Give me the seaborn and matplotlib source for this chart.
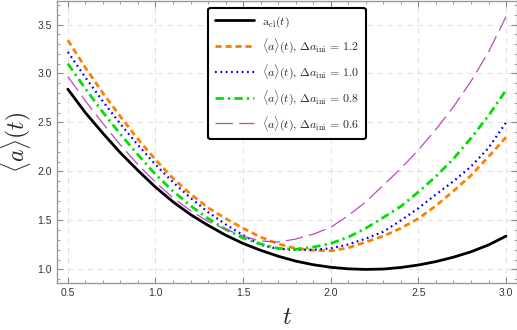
import numpy as np
import pandas as pd
import matplotlib
matplotlib.use("Agg")
import matplotlib.pyplot as plt
import seaborn as sns
from matplotlib.ticker import MultipleLocator

# values, t step 0.1
t = [0.5, 0.6, 0.7, 0.8, 0.9, 1.0, 1.1, 1.2, 1.3, 1.4, 1.5, 1.6, 1.7,
     1.8, 1.9, 2.0, 2.1, 2.2, 2.3, 2.4, 2.5, 2.6, 2.7, 2.8, 2.9, 3.0]

a_cl = [2.84, 2.60, 2.39, 2.19, 2.01, 1.84, 1.69, 1.56, 1.45, 1.35, 1.265,
        1.195, 1.135, 1.085, 1.048, 1.022, 1.006, 1.000, 1.004, 1.020,
        1.045, 1.080, 1.125, 1.180, 1.250, 1.340]
a_12 = [3.34, 3.06, 2.80, 2.56, 2.33, 2.12, 1.93, 1.77, 1.63, 1.52, 1.42,
        1.33, 1.26, 1.215, 1.195, 1.19, 1.22, 1.28, 1.34, 1.42, 1.52,
        1.65, 1.80, 1.96, 2.15, 2.35]
a_10 = [3.22, 2.96, 2.715, 2.485, 2.27, 2.07, 1.89, 1.73, 1.585, 1.46, 1.35,
        1.25, 1.21, 1.20, 1.20, 1.215, 1.255, 1.315, 1.385, 1.50, 1.625,
        1.765, 1.90, 2.05, 2.24, 2.50]
a_08 = [3.10, 2.845, 2.605, 2.38, 2.17, 1.97, 1.80, 1.65, 1.52, 1.41, 1.32,
        1.26, 1.215, 1.205, 1.228, 1.265, 1.33, 1.42, 1.53, 1.645, 1.79,
        1.95, 2.13, 2.34, 2.57, 2.83]
a_06 = [2.97, 2.72, 2.49, 2.27, 2.07, 1.89, 1.73, 1.60, 1.49, 1.41, 1.34,
        1.29, 1.28, 1.31, 1.36, 1.43, 1.55, 1.69, 1.86, 2.03, 2.22, 2.43,
        2.66, 2.92, 3.22, 3.58]

labels = [r"$\mathrm{a_{cl}}(t)$",
          r"$\langle a\rangle(t),\,\Delta a_{\mathrm{ini}}\,=\,1.2$",
          r"$\langle a\rangle(t),\,\Delta a_{\mathrm{ini}}\,=\,1.0$",
          r"$\langle a\rangle(t),\,\Delta a_{\mathrm{ini}}\,=\,0.8$",
          r"$\langle a\rangle(t),\,\Delta a_{\mathrm{ini}}\,=\,0.6$"]

sns.set_theme(style="ticks")
plt.rcParams["mathtext.fontset"] = "cm"
plt.rcParams["font.family"] = ["Liberation Sans", "DejaVu Sans"]

fig = plt.figure(figsize=(5.17, 3.30), dpi=100)
ax = fig.add_axes([0.110, 0.142, 0.890, 0.855])

styles = [
    dict(color="black", lw=2.0, ls="-"),
    dict(color="#FF8000", lw=2.0, ls=(0, (2.2, 1.4))),
    dict(color="#0000FF", lw=1.6, ls=(0, (0.8, 1.6))),
    dict(color="#00E000", lw=2.0, ls=(0, (3.0, 1.5, 0.8, 1.5))),
    dict(color="#B84DB8", lw=0.9, ls=(0, (14, 5))),
]
series = [a_cl, a_12, a_10, a_08, a_06]
for y, lab, st in zip(series, labels, styles):
    sns.lineplot(x=t, y=y, ax=ax, label=lab, color=st["color"],
                 linewidth=st["lw"], linestyle=st["ls"])

ax.set_xlim(0.4375, 3.0625)
ax.set_ylim(0.86, 3.74)
ax.xaxis.set_major_locator(MultipleLocator(0.5))
ax.xaxis.set_minor_locator(MultipleLocator(0.1))
ax.yaxis.set_major_locator(MultipleLocator(0.5))
ax.yaxis.set_minor_locator(MultipleLocator(0.1))
ax.tick_params(which="both", direction="in", top=True, right=True,
               colors="#888888", labelcolor="#333333", labelsize=7.5)
ax.tick_params(which="major", length=4, width=0.8)
ax.tick_params(which="minor", length=2.5, width=0.6)
for s in ax.spines.values():
    s.set_color("#999999")
    s.set_linewidth(1.0)
ax.grid(True, which="major", ls=(0, (5, 4)), color="#E2E2E2", lw=0.8)

ax.set_xlabel(r"$t$", fontsize=18, labelpad=5)
ax.set_ylabel(r"$\langle a\rangle(t)$", fontsize=17, labelpad=3)

leg = ax.legend(loc="upper center", bbox_to_anchor=(0.5, 0.997), fontsize=8.5,
                frameon=True, fancybox=True, handlelength=3.3,
                labelspacing=0.6, borderpad=0.55, handletextpad=0.7)
leg.get_frame().set_edgecolor("black")
leg.get_frame().set_linewidth(1.5)
leg.get_frame().set_alpha(1.0)

fig.savefig("out.png", dpi=100)
